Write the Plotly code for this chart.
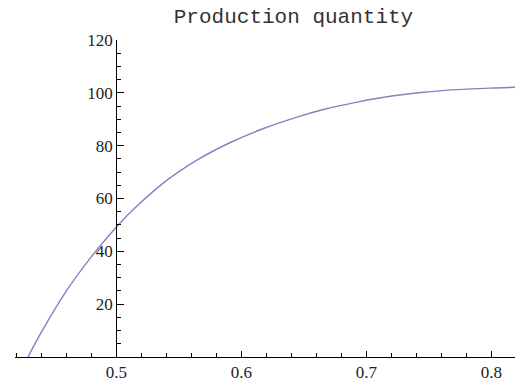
import plotly.graph_objects as go

# values
x_vals = [0.4294, 0.4400, 0.4600, 0.4800, 0.5000, 0.5112, 0.5378, 0.5645,
          0.5912, 0.6178, 0.6472, 0.6658, 0.6926, 0.7192, 0.7458, 0.7726,
          0.7992, 0.8190]
y_vals = [0.0, 9.3, 24.9, 37.9, 49.1, 54.7, 65.9, 74.5,
          81.2, 86.5, 91.2, 93.7, 96.5, 98.7, 100.2, 101.2,
          101.8, 102.1]

x_ticks = [0.5, 0.6, 0.7, 0.8]
x_tick_text = ["0.5", "0.6", "0.7", "0.8"]
y_ticks = [20, 40, 60, 80, 100, 120]
y_tick_text = ["20", "40", "60", "80", "100", "120"]

title_text = "Production quantity"

x_range = [0.419, 0.819]
y_range = [0, 120]
y_axis_cross = 0.5

fig = go.Figure()
fig.add_trace(go.Scatter(
    x=x_vals, y=y_vals, mode="lines",
    line=dict(color="#8383c2", width=1.4, shape="spline", smoothing=1.0),
    hoverinfo="skip", showlegend=False,
))

tick_font = dict(family="Liberation Serif", size=17, color="#222222")

fig.update_layout(
    width=515, height=385,
    margin=dict(l=15, r=0, t=40, b=28, autoexpand=False),
    paper_bgcolor="white", plot_bgcolor="white",
    title=dict(text=title_text, x=0.557, xref="paper", xanchor="center",
               y=1 - 16 / 385, yref="container", yanchor="middle",
               font=dict(family="Liberation Mono", size=21, color="#333333")),
    xaxis=dict(
        range=x_range, domain=[0, 1], anchor="y",
        showgrid=False, zeroline=False,
        showline=True, linecolor="black", linewidth=1,
        tickvals=x_ticks, ticktext=x_tick_text,
        ticks="inside", ticklen=6, tickcolor="black", tickwidth=1,
        minor=dict(tick0=0, dtick=0.02, ticks="inside", ticklen=4,
                   tickcolor="black", tickwidth=1, showgrid=False),
        tickfont=tick_font, automargin=False,
    ),
    yaxis=dict(
        range=y_range, anchor="free",
        position=(y_axis_cross - x_range[0]) / (x_range[1] - x_range[0]),
        showgrid=False, zeroline=False,
        showline=True, linecolor="black", linewidth=1,
        tickvals=y_ticks, ticktext=y_tick_text,
        ticks="inside", ticklen=7, tickcolor="black", tickwidth=1,
        minor=dict(tick0=0, dtick=5, ticks="inside", ticklen=4,
                   tickcolor="black", tickwidth=1, showgrid=False),
        tickfont=tick_font, automargin=False,
    ),
)

fig.write_html("out.html",
               config={"displayModeBar": False},
               post_script="document.body.style.margin='0';")
